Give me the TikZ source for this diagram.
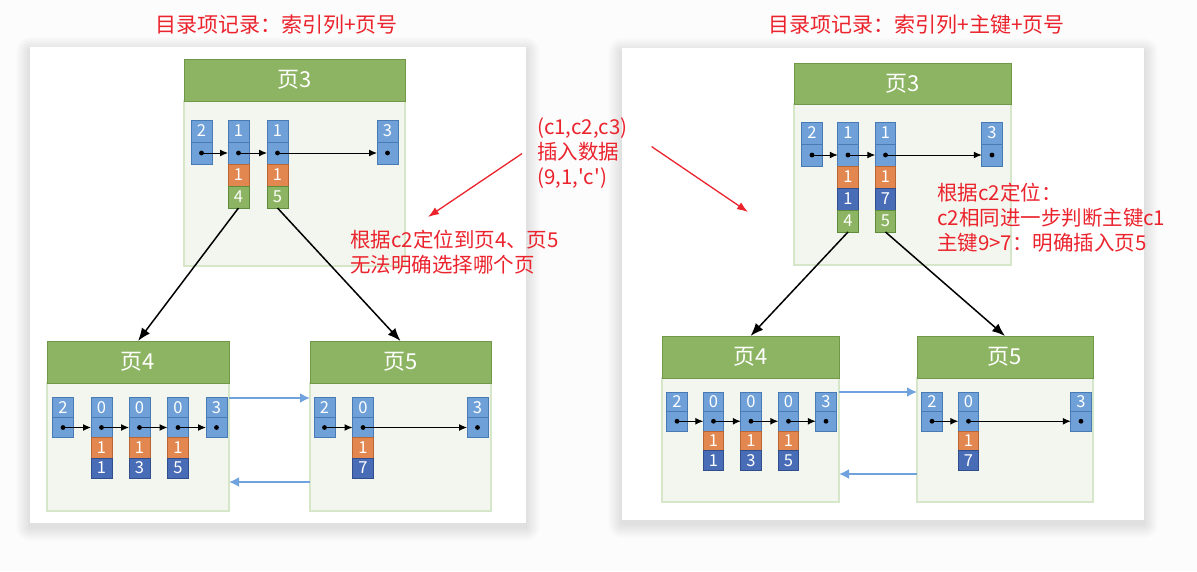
\documentclass[tikz,border=0pt]{standalone}
\usepackage{fontspec}
\setmainfont{Noto Sans CJK SC}
\usepackage{tikz}
\usetikzlibrary{arrows.meta, positioning, calc}
\definecolor{myred}{RGB}{235,35,45}
\definecolor{hdrgreen}{RGB}{141,180,98}
\definecolor{hdrline}{RGB}{112,152,72}
\definecolor{bodyfill}{RGB}{243,246,238}
\definecolor{bodyline}{RGB}{214,230,200}
\definecolor{keyblue}{RGB}{111,160,216}
\definecolor{keyline}{RGB}{72,122,182}
\definecolor{c2orange}{RGB}{226,135,80}
\definecolor{c2line}{RGB}{186,102,52}
\definecolor{pkblue}{RGB}{72,108,182}
\definecolor{pkline}{RGB}{48,78,140}
\definecolor{pggreen}{RGB}{141,180,98}
\definecolor{pgline}{RGB}{95,140,60}
\definecolor{linkblue}{RGB}{112,162,222}
\definecolor{bgcol}{RGB}{252,252,252}
\tikzset{
  pagehdr/.style={rectangle, draw=hdrline, fill=hdrgreen, text=white,
    minimum height=42pt, inner sep=0pt, outer sep=0pt, line width=1pt,
    font=\fontsize{22}{26}\selectfont},
  pagebody/.style={rectangle, draw=bodyline, fill=bodyfill, inner sep=0pt,
    outer sep=0pt, line width=1.2pt, anchor=north west},
  cell/.style={rectangle, inner sep=0pt, outer sep=0pt, line width=0.9pt,
    text=white, font=\fontsize{16.5}{18}\selectfont},
  keycell/.style={cell, draw=keyline, fill=keyblue},
  ptrcell/.style={cell, draw=keyline, fill=keyblue,
    path picture={\fill[black] (path picture bounding box.center) circle (2.4pt);}},
  c2cell/.style={cell, draw=c2line, fill=c2orange},
  pkcell/.style={cell, draw=pkline, fill=pkblue},
  pgcell/.style={cell, draw=pgline, fill=pggreen},
  ptrarrow/.style={-{Latex[length=8pt, width=7pt]}, line width=1pt, black},
  treearrow/.style={-{Latex[length=13pt, width=10pt]}, line width=1.5pt, black},
  linkarrow/.style={-{Latex[length=10pt, width=10pt]}, line width=2.6pt, linkblue},
  notearrow/.style={-{Latex[length=11pt, width=8pt]}, line width=1.3pt, myred},
  note/.style={text=myred, align=left, inner sep=0pt,
    font=\fontsize{20.5}{25}\selectfont, anchor=north west},
  heading/.style={text=myred, inner sep=0pt, font=\fontsize{21}{25}\selectfont},
  panel/.style={rectangle, fill=white, inner sep=0pt, outer sep=0pt, anchor=north west}
}

\begin{document}
\begin{tikzpicture}[x=1pt, y=-1pt]
  \fill[bgcol] (0,0) rectangle (1197,571);
  \useasboundingbox (0,0) rectangle (1197,571);
  % soft shadows under the two panels
  \foreach \xa/\ya/\xb/\yb in {30/47/526/523, 622/48/1144/520}
    \foreach \s in {1,...,14}
      \fill[black, opacity=0.007, rounded corners=\s pt]
        (\xa-\s,\ya-\s+4) rectangle (\xb+\s,\yb+\s+4);
  \node[panel, minimum width=496pt, minimum height=476pt] (lpanel) at (30,47) {};
  \node[panel, minimum width=522pt, minimum height=472pt] (rpanel) at (622,48) {};
  % titles
  \node[heading] (ltitle) at (276.5,25) {目录项记录：索引列+页号};
  \node[heading] (rtitle) at (916.5,25) {目录项记录：索引列+主键+页号};

  % ---- left: pages
  \node[pagebody, minimum width=221pt, minimum height=165pt] (lpg3b) at (184,101) {};
  \node[pagehdr, minimum width=221pt, above=0pt of lpg3b] (lpg3) {页3};
  \node[pagebody, minimum width=182pt, minimum height=128pt] (lpg4b) at (47,383) {};
  \node[pagehdr, minimum width=182pt, above=0pt of lpg4b] (lpg4) {页4};
  \node[pagebody, minimum width=181pt, minimum height=128pt] (lpg5b) at (310,383) {};
  \node[pagehdr, minimum width=181pt, above=0pt of lpg5b] (lpg5) {页5};

  % left page 3 records
  \begin{scope}[cell/.append style={minimum width=21pt, minimum height=22pt}]
    \foreach \i/\x/\k in {1/201.5/2, 2/238.5/1, 3/277.5/1, 4/387.5/3} {
      \node[keycell] (ltk\i) at (\x,131) {\k};
      \node[ptrcell, below=0pt of ltk\i] (ltp\i) {};
    }
    \foreach \i/\v in {2/4, 3/5} {
      \node[c2cell, below=0pt of ltp\i] (ltc\i) {1};
      \node[pgcell, below=0pt of ltc\i] (ltg\i) {\v};
    }
    \foreach \i/\j in {1/2, 2/3, 3/4}
      \draw[ptrarrow] (ltp\i.center) -- (ltp\j.west);
  \end{scope}

  % left page 4 records
  \begin{scope}[cell/.append style={minimum width=21pt, minimum height=20.3pt}]
    \foreach \i/\x/\k in {1/63/2, 2/101.5/0, 3/139.5/0, 4/178/0, 5/216.5/3} {
      \node[keycell] (l4k\i) at (\x,407.2) {\k};
      \node[ptrcell, below=0pt of l4k\i] (l4p\i) {};
    }
    \foreach \i/\v in {2/1, 3/3, 4/5} {
      \node[c2cell, below=0pt of l4p\i] (l4c\i) {1};
      \node[pkcell, below=0pt of l4c\i] (l4n\i) {\v};
    }
    \foreach \i/\j in {1/2, 2/3, 3/4, 4/5}
      \draw[ptrarrow] (l4p\i.center) -- (l4p\j.west);
  % left page 5 records
    \foreach \i/\x/\k in {1/324.5/2, 2/363/0, 3/477.5/3} {
      \node[keycell] (l5k\i) at (\x,407.2) {\k};
      \node[ptrcell, below=0pt of l5k\i] (l5p\i) {};
    }
    \node[c2cell, below=0pt of l5p2] (l5c2) {1};
    \node[pkcell, below=0pt of l5c2] (l5n2) {7};
    \foreach \i/\j in {1/2, 2/3}
      \draw[ptrarrow] (l5p\i.center) -- (l5p\j.west);
  \end{scope}

  % left connectors
  \draw[treearrow] (ltg2.south) -- (lpg4.north);
  \draw[treearrow] (ltg3.south) -- (lpg5.north);
  \draw[linkarrow] ([yshift=-15pt]lpg4b.north east) -- ([yshift=-15pt]lpg5b.north west);
  \draw[linkarrow] ([yshift=29pt]lpg5b.south west) -- ([yshift=29pt]lpg4b.south east);

  % ---- right: pages
  \node[pagebody, minimum width=217pt, minimum height=161pt] (rpg3b) at (794,104) {};
  \node[pagehdr, minimum width=217pt, minimum height=41pt, above=0pt of rpg3b] (rpg3) {页3};
  \node[pagebody, minimum width=177pt, minimum height=124pt] (rpg4b) at (662,378) {};
  \node[pagehdr, minimum width=177pt, above=0pt of rpg4b] (rpg4) {页4};
  \node[pagebody, minimum width=176pt, minimum height=124pt] (rpg5b) at (917,378) {};
  \node[pagehdr, minimum width=176pt, above=0pt of rpg5b] (rpg5) {页5};

  % right page 3 records
  \begin{scope}[cell/.append style={minimum width=20.5pt, minimum height=22pt}]
    \foreach \i/\x/\k in {1/812/2, 2/848/1, 3/885.5/1, 4/992/3} {
      \node[keycell] (rtk\i) at (\x,133) {\k};
      \node[ptrcell, below=0pt of rtk\i] (rtp\i) {};
    }
    \foreach \i/\n/\v in {2/1/4, 3/7/5} {
      \node[c2cell, below=0pt of rtp\i] (rtc\i) {1};
      \node[pkcell, below=0pt of rtc\i] (rtn\i) {\n};
      \node[pgcell, below=0pt of rtn\i] (rtg\i) {\v};
    }
    \foreach \i/\j in {1/2, 2/3, 3/4}
      \draw[ptrarrow] (rtp\i.center) -- (rtp\j.west);
  \end{scope}

  % right page 4 records
  \begin{scope}[cell/.append style={minimum width=20.5pt, minimum height=19.5pt}]
    \foreach \i/\x/\k in {1/677/2, 2/713.5/0, 3/751/0, 4/788.5/0, 5/826/3} {
      \node[keycell] (r4k\i) at (\x,401.75) {\k};
      \node[ptrcell, below=0pt of r4k\i] (r4p\i) {};
    }
    \foreach \i/\v in {2/1, 3/3, 4/5} {
      \node[c2cell, below=0pt of r4p\i] (r4c\i) {1};
      \node[pkcell, below=0pt of r4c\i] (r4n\i) {\v};
    }
    \foreach \i/\j in {1/2, 2/3, 3/4, 4/5}
      \draw[ptrarrow] (r4p\i.center) -- (r4p\j.west);
  % right page 5 records
    \foreach \i/\x/\k in {1/932/2, 2/968.5/0, 3/1081/3} {
      \node[keycell] (r5k\i) at (\x,401.75) {\k};
      \node[ptrcell, below=0pt of r5k\i] (r5p\i) {};
    }
    \node[c2cell, below=0pt of r5p2] (r5c2) {1};
    \node[pkcell, below=0pt of r5c2] (r5n2) {7};
    \foreach \i/\j in {1/2, 2/3}
      \draw[ptrarrow] (r5p\i.center) -- (r5p\j.west);
  \end{scope}

  % right connectors
  \draw[treearrow] (rtg2.south) -- (rpg4.north);
  \draw[treearrow] (rtg3.south) -- (rpg5.north);
  \draw[linkarrow] ([yshift=-14pt]rpg4b.north east) -- ([yshift=-14pt]rpg5b.north west);
  \draw[linkarrow] ([yshift=28pt]rpg5b.south west) -- ([yshift=28pt]rpg4b.south east);

  % notes
  \node[note] (insnote) at (537,118) {(c1,c2,c3)\\插入数据\\(9,1,\textquotesingle c\textquotesingle)};
  \node[note] (lnote) at (350,230) {根据c2定位到页4、页5\\无法明确选择哪个页};
  \node[note] (rnote) at (937,183) {根据c2定位：\\c2相同进一步判断主键c1\\主键9>7：明确插入页5};
  \coordinate (lhit) at (428,217);
  \coordinate (rhit) at (748,212);
  \draw[notearrow] ([xshift=-15pt]insnote.west) -- (lhit);
  \draw[notearrow] ([xshift=24pt, yshift=7pt]insnote.east) -- (rhit);
\end{tikzpicture}
\end{document}
